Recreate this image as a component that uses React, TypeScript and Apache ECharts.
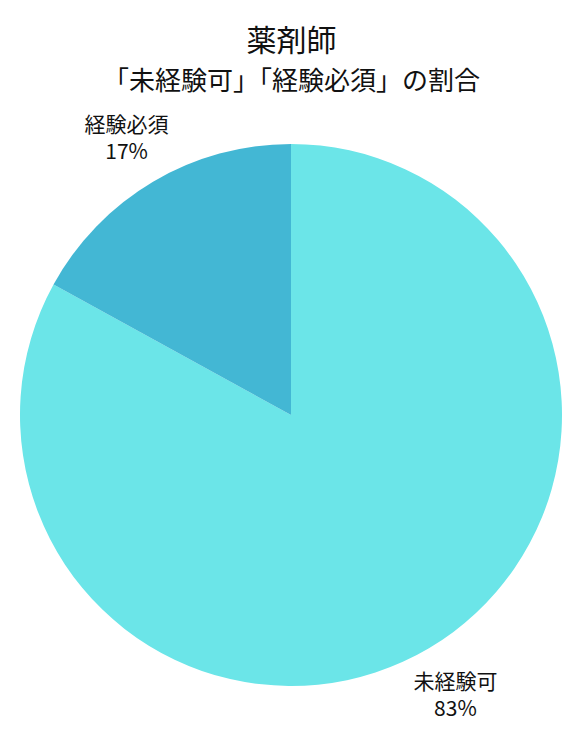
import { useEffect, useRef } from "react";
import * as echarts from "echarts";

const titleText = "薬剤師";
const subText = "「未経験可」「経験必須」の割合";
const categories = ["未経験可", "経験必須"];
const shares = [83, 17];
const colors = ["#6be5e8", "#43b7d4"];

const FONT = "'Noto Sans CJK JP', 'Noto Sans', sans-serif";

export default function App() {
  const chartRef = useRef<HTMLDivElement>(null);

  useEffect(() => {
    document.body.style.margin = "0";
    if (!chartRef.current) return;
    const chart = echarts.init(chartRef.current, undefined, { renderer: "svg" });

    const data = categories.map((name, i) => ({ name, value: shares[i] }));

    chart.setOption({
      animation: false,
      backgroundColor: "#ffffff",
      title: [
        {
          text: titleText,
          left: "center",
          top: 18,
          textStyle: { fontFamily: FONT, fontSize: 30, fontWeight: "normal", color: "#111" },
        },
        {
          text: subText,
          left: "center",
          top: 60,
          textStyle: { fontFamily: FONT, fontSize: 26, fontWeight: "normal", color: "#111" },
        },
      ],
      series: [
        {
          type: "pie",
          center: [291, 415],
          radius: [0, 271],
          startAngle: 90,
          clockwise: true,
          silent: true,
          label: { show: false },
          labelLine: { show: false },
          itemStyle: {
            color: (p: any) => colors[p.dataIndex],
            borderWidth: 0,
          },
          data,
        },
        {
          // transparent pie only used to place labels at a fixed radius
          type: "pie",
          center: [291, 415],
          radius: [0, 640],
          startAngle: 90,
          clockwise: true,
          silent: true,
          itemStyle: { color: "rgba(0,0,0,0)" },
          label: {
            show: true,
            position: "inside",
            formatter: (p: any) => `${p.name}\n${p.value}%`,
            fontFamily: FONT,
            fontSize: 21,
            lineHeight: 27,
            color: "#111",
            align: "center",
          },
          labelLine: { show: false },
          data,
        },
      ],
    });

    return () => chart.dispose();
  }, []);

  return <div ref={chartRef} style={{ width: 583, height: 735 }} />;
}
